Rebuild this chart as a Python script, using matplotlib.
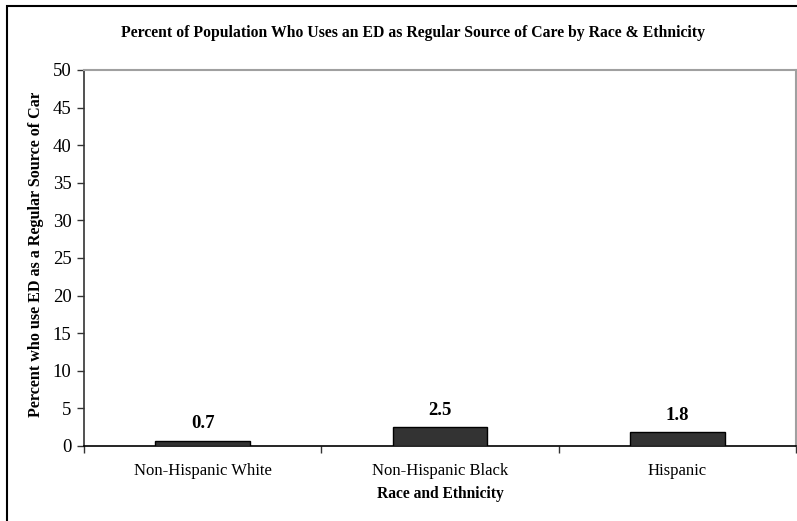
import matplotlib
matplotlib.use("Agg")
import matplotlib.pyplot as plt
from matplotlib.patches import Rectangle

categories = ["Non-Hispanic White", "Non-Hispanic Black", "Hispanic"]
values = [0.7, 2.5, 1.8]
value_labels = ["0.7", "2.5", "1.8"]
y_ticks = [0, 5, 10, 15, 20, 25, 30, 35, 40, 45, 50]

title = "Percent of Population Who Uses an ED as Regular Source of Care by Race & Ethnicity"
x_title = "Race and Ethnicity"
y_title = "Percent who use ED as a Regular Source of Care"

plt.rcParams["font.family"] = ["Liberation Serif", "DejaVu Serif"]

W, H = 797, 521
fig = plt.figure(figsize=(W / 100, H / 100), dpi=100)

# Plot area in pixel coordinates
left, right, top, bottom = 84, 796, 70, 446
ax = fig.add_axes([left / W, 1 - bottom / H, (right - left) / W, (bottom - top) / H])

x = list(range(len(categories)))
ax.bar(x, values, width=0.4, color="#333333", edgecolor="black", linewidth=1.0, zorder=3)
for xi, v, lab in zip(x, values, value_labels):
    ax.annotate(lab, (xi, v), xytext=(0, 6), textcoords="offset points",
                ha="center", va="bottom", fontsize=13.5, fontweight="bold")

ax.set_xlim(-0.5, len(categories) - 0.5)
ax.set_ylim(0, 50)
ax.set_yticks(y_ticks)
ax.set_yticklabels([str(t) for t in y_ticks], fontsize=13.5)
ax.tick_params(axis="y", direction="out", length=5, width=1, pad=4, color="#333333")

# Category boundary ticks on x, labels centered under each bar
ax.set_xticks([i - 0.5 for i in range(len(categories) + 1)])
ax.set_xticklabels([""] * (len(categories) + 1))
ax.set_xticks(x, minor=True)
ax.set_xticklabels(categories, minor=True, fontsize=12)
ax.tick_params(axis="x", which="minor", length=0, pad=12)
ax.tick_params(axis="x", which="major", direction="out", length=5, width=1, color="#333333")

for side in ("top", "right"):
    ax.spines[side].set_color("#a0a0a0")
    ax.spines[side].set_linewidth(1.5)
ax.spines["left"].set_color("#333333")
ax.spines["bottom"].set_color("black")
ax.spines["left"].set_linewidth(1.2)
ax.spines["bottom"].set_linewidth(1.2)

fig.text(413 / W, 1 - 33 / H, title, ha="center", va="center",
         fontsize=11.35, fontweight="bold")
fig.text(440 / W, 1 - 494 / H, x_title, ha="center", va="center",
         fontsize=11.2, fontweight="bold")

# Vertical axis title, clipped at the top of the chart frame
ylab = fig.text(36 / W, 1 - 417 / H, y_title, ha="center", va="bottom",
                rotation=90, fontsize=11.6, fontweight="bold")
clip = Rectangle((0, 0), 1, 1 - 93 / H, transform=fig.transFigure, visible=False)
fig.add_artist(clip)
ylab.set_clip_on(True)
ylab.set_clip_path(clip)

# Outer chart frame
fig.add_artist(Rectangle((6.5 / W, -0.1), 1.2, 1 - 6 / H + 0.1, transform=fig.transFigure,
                         fill=False, edgecolor="black", linewidth=1.5))

fig.savefig("out.png", dpi=100)
